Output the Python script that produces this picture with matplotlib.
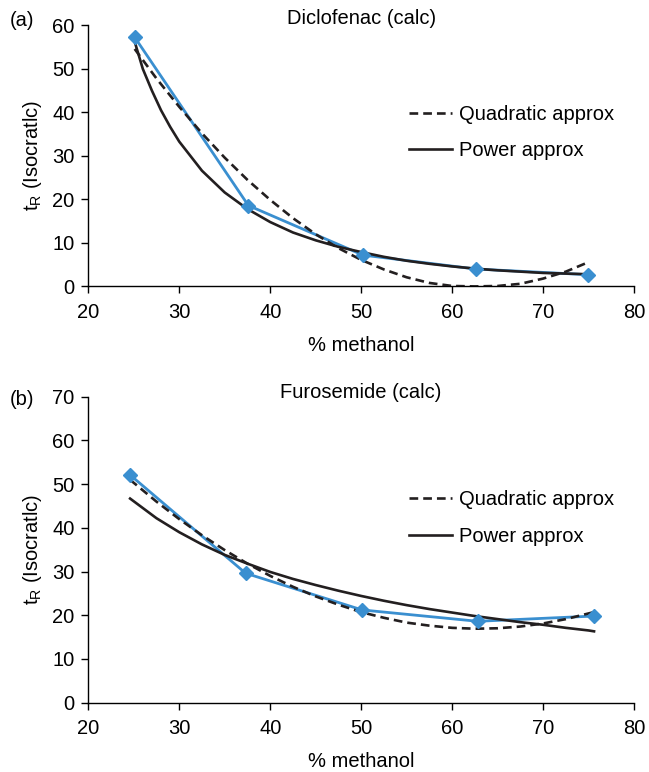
import matplotlib
matplotlib.use('Agg')
import matplotlib.pyplot as plt

plt.rcParams['font.family'] = ['Liberation Sans', 'DejaVu Sans']
fs = 14.5

blue = '#3a8fd0'
ink = '#231f20'

# (a) Diclofenac - measured points
dic_x = [25.1, 37.6, 50.2, 62.6, 74.9]
dic_y = [57.3, 18.6, 7.2, 4.0, 2.7]

# (a) trend lines
dic_quad_x = [25.1, 27.5, 30, 32.5, 35, 37.5, 40, 42.5, 45, 47.5, 50,
              52.5, 55, 57.5, 60, 62.5, 65, 67.5, 70, 72.5, 74.9]
dic_quad_y = [54.6, 47.8, 41.3, 35.2, 29.6, 24.5, 19.9, 15.7, 12.0, 8.8, 6.1,
              3.9, 2.1, 0.8, 0.1, 0.0, 0.1, 0.6, 1.8, 3.4, 5.5]
dic_pow_x = [25.1, 26, 27, 28, 29, 30, 32.5, 35, 37.5, 40, 42.5, 45, 47.5, 50,
             52.5, 55, 57.5, 60, 62.5, 65, 67.5, 70, 72.5, 74.9]
dic_pow_y = [56.3, 50.0, 45.0, 40.5, 36.7, 33.3, 26.6, 21.6, 17.8, 14.8, 12.4, 10.6, 9.1, 7.9,
             6.8, 5.9, 5.2, 4.6, 4.1, 3.7, 3.4, 3.1, 2.95, 2.8]

# (b) Furosemide - measured points
fur_x = [24.6, 37.3, 50.1, 62.8, 75.6]
fur_y = [52.1, 29.6, 21.2, 18.6, 19.8]

fur_quad_x = [24.6, 27.5, 30, 32.5, 35, 37.5, 40, 42.5, 45, 47.5, 50,
              52.5, 55, 57.5, 60, 62.5, 65, 67.5, 70, 72.5, 75, 75.6]
fur_quad_y = [51.0, 46.0, 42.0, 38.3, 34.9, 31.8, 29.0, 26.5, 24.3, 22.4, 20.7,
              19.4, 18.3, 17.6, 17.1, 16.9, 17.0, 17.4, 18.1, 19.1, 20.4, 20.7]
fur_pow_x = [24.6, 27.5, 30, 32.5, 35, 37.5, 40, 42.5, 45, 47.5, 50,
             52.5, 55, 57.5, 60, 62.5, 65, 67.5, 70, 72.5, 75, 75.6]
fur_pow_y = [46.7, 42.2, 39.0, 36.2, 33.8, 31.8, 29.9, 28.3, 26.9, 25.6, 24.4,
             23.3, 22.3, 21.4, 20.6, 19.8, 19.1, 18.4, 17.8, 17.1, 16.5, 16.3]

panels = [
    ('(a)', 'Diclofenac (calc)', dic_x, dic_y, dic_quad_x, dic_quad_y, dic_pow_x, dic_pow_y, 60),
    ('(b)', 'Furosemide (calc)', fur_x, fur_y, fur_quad_x, fur_quad_y, fur_pow_x, fur_pow_y, 70),
]

W, H = 649, 772
fig = plt.figure(figsize=(W / 100, H / 100), dpi=100)
boxes = [[0.136, 0.629, 0.841, 0.338], [0.136, 0.090, 0.841, 0.396]]
title_y = [18, 392]
tag_y = [20, 400]
leg_y = [0.765, 0.753]

for i, (box, (tag, title, x, y, qx, qy, px, py, ytop)) in enumerate(zip(boxes, panels)):
    ax = fig.add_axes(box)
    ax.plot(x, y, color=blue, lw=2, zorder=2)
    ax.plot(qx, qy, color=ink, lw=1.9, ls=(0, (3.3, 1.9)), label='Quadratic approx', zorder=3)
    ax.plot(px, py, color=ink, lw=1.9, label='Power approx', zorder=3)
    ax.plot(x, y, ls='none', marker='D', ms=7.5, color=blue, zorder=4)

    ax.set_xlim(20, 80)
    ax.set_ylim(0, ytop)
    ax.set_xticks(range(20, 81, 10))
    ax.set_yticks(range(0, ytop + 1, 10))
    for s in ['top', 'right']:
        ax.spines[s].set_visible(False)
    for s in ['left', 'bottom']:
        ax.spines[s].set_linewidth(1.0)
    ax.tick_params(direction='out', length=5, width=1, labelsize=fs, pad=5)
    ax.tick_params(axis='x', pad=7)
    ax.set_xlabel('% methanol', fontsize=fs, labelpad=10)
    ax.set_ylabel('t$_\\mathregular{R}$ (Isocratlc)', fontsize=fs, labelpad=6)
    fig.text(0.5 * (box[0] * 2 + box[2]), 1 - title_y[i] / H, title,
             ha='center', va='center', fontsize=fs)
    fig.text(10 / W, 1 - tag_y[i] / H, tag, ha='left', va='center', fontsize=fs)
    ax.legend(loc='upper left', bbox_to_anchor=(0.555, leg_y[i]), frameon=False,
              handlelength=2.1, handletextpad=0.35, labelspacing=0.85, fontsize=fs)

fig.savefig('out.png', dpi=100)
